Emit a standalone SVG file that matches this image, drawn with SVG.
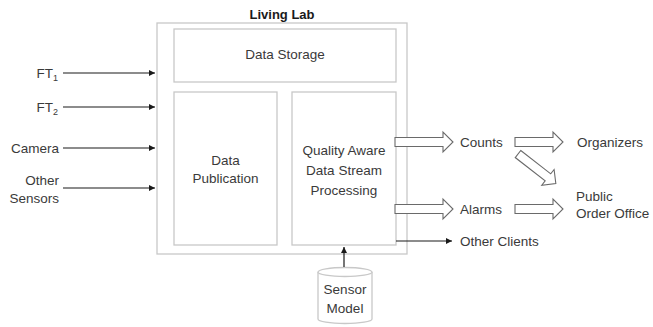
<svg xmlns="http://www.w3.org/2000/svg" width="653" height="327" viewBox="0 0 653 327">
  <defs>
    <style>
      .box { fill: #ffffff; stroke: #c8c8c8; stroke-width: 1.3; }
      .txt { font-family: "Liberation Sans", Arial, sans-serif; font-size: 13.5px; fill: #3a3a3a; }
      .mid { text-anchor: middle; }
      .end { text-anchor: end; }
      .title { font-family: "Liberation Sans", Arial, sans-serif; font-size: 13px; font-weight: bold; fill: #1a1a1a; text-anchor: middle; }
      .sub { font-size: 9px; }
      .line { stroke: #1a1a1a; stroke-width: 1.2; fill: none; }
      .hollow { fill: #ffffff; stroke: #6a6a6a; stroke-width: 1.1; }
    </style>
    <marker id="arrow" viewBox="0 0 10 10" refX="10" refY="5" markerWidth="8" markerHeight="6" orient="auto" markerUnits="userSpaceOnUse">
      <path d="M0,0 L10,5 L0,10 z" fill="#1a1a1a"/>
    </marker>
    <!-- block arrow, 58 long, pointing along +x from origin -->
    <path id="fat" d="M0,-4.5 L48,-4.5 L48,-10 L58,0 L48,10 L48,4.5 L0,4.5 z"/>
    <path id="fat45" d="M0,-4.5 L38,-4.5 L38,-10 L48,0 L38,10 L38,4.5 L0,4.5 z"/>
  </defs>

  <!-- Living Lab container -->
  <g id="living-lab">
    <text class="title" x="282" y="19">Living Lab</text>
    <rect class="box" x="157" y="23" width="250" height="231"/>
  </g>

  <g id="data-storage">
    <rect class="box" x="174" y="29" width="222" height="53"/>
    <text class="txt mid" x="285" y="59">Data Storage</text>
  </g>

  <g id="data-publication">
    <rect class="box" x="174" y="92" width="103" height="153"/>
    <text class="txt mid" x="225.5" y="165">Data</text>
    <text class="txt mid" x="225.5" y="183">Publication</text>
  </g>

  <g id="stream-processing">
    <rect class="box" x="292" y="92" width="104" height="153"/>
    <text class="txt mid" x="344" y="155">Quality Aware</text>
    <text class="txt mid" x="344" y="175">Data Stream</text>
    <text class="txt mid" x="344" y="195">Processing</text>
  </g>

  <g id="sensor-model">
    <path class="box" d="M318,272 L318,319 A27,4.5 0 0 0 372,319 L372,272"/>
    <ellipse class="box" cx="345" cy="272" rx="27" ry="4.5"/>
    <text class="txt mid" x="345" y="294">Sensor</text>
    <text class="txt mid" x="345" y="313">Model</text>
  </g>

  <!-- input labels -->
  <g id="inputs">
    <text class="txt end" x="58" y="78">FT<tspan class="sub" dy="3">1</tspan></text>
    <text class="txt end" x="58" y="112">FT<tspan class="sub" dy="3">2</tspan></text>
    <text class="txt end" x="59" y="153">Camera</text>
    <text class="txt end" x="59" y="185">Other</text>
    <text class="txt end" x="59" y="203">Sensors</text>
  </g>

  <!-- output labels -->
  <g id="outputs">
    <text class="txt" x="460" y="147">Counts</text>
    <text class="txt" x="460" y="214">Alarms</text>
    <text class="txt" x="460" y="246">Other Clients</text>
    <text class="txt" x="577" y="147">Organizers</text>
    <text class="txt" x="576" y="201">Public</text>
    <text class="txt" x="576" y="218">Order Office</text>
  </g>

  <!-- connectors -->
  <g id="connectors">
    <line class="line" x1="63" y1="73" x2="155" y2="73" marker-end="url(#arrow)"/>
    <line class="line" x1="63" y1="107" x2="155" y2="107" marker-end="url(#arrow)"/>
    <line class="line" x1="63" y1="148" x2="155" y2="148" marker-end="url(#arrow)"/>
    <line class="line" x1="63" y1="188" x2="155" y2="188" marker-end="url(#arrow)"/>
    <line class="line" x1="396" y1="241" x2="452" y2="241" marker-end="url(#arrow)"/>
    <line class="line" x1="344" y1="267" x2="344" y2="247" marker-end="url(#arrow)"/>

    <use href="#fat" class="hollow" transform="translate(395,142)"/>
    <use href="#fat" class="hollow" transform="translate(395,209)"/>
    <use href="#fat45" class="hollow" transform="translate(515,142)"/>
    <use href="#fat45" class="hollow" transform="translate(515,209)"/>
    <use href="#fat45" class="hollow" transform="translate(518,154) rotate(38)"/>
  </g>
</svg>
